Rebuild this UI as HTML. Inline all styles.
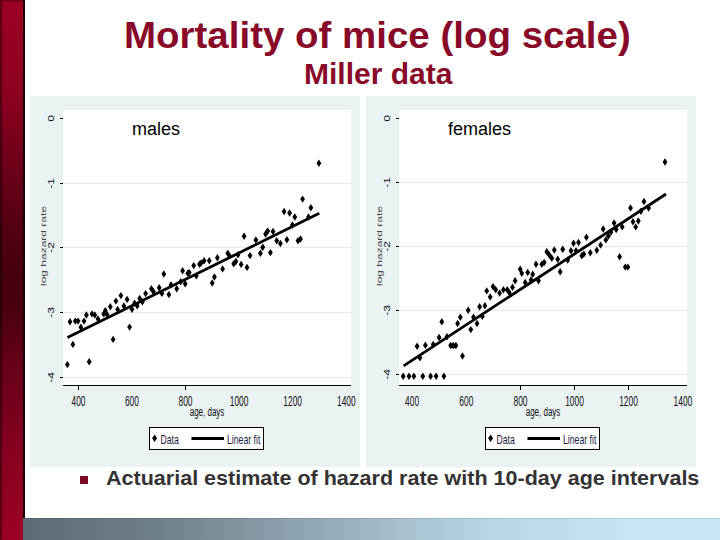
<!DOCTYPE html>
<html><head><meta charset="utf-8">
<style>
html,body{margin:0;padding:0;}
body{width:720px;height:540px;position:relative;overflow:hidden;background:#fff;font-family:"Liberation Sans",sans-serif;}
.bar{position:absolute;left:0;top:0;width:23px;height:540px;background:linear-gradient(to bottom,#9c0024 0px,#8e0022 90px,#74001a 150px,#520011 230px,#45000e 275px,#4a0010 310px,#640016 360px,#860020 450px,#9c0024 540px);border-right:2px solid #200006;box-shadow:inset 2px 1px 2px rgba(0,0,0,0.45);}
.bottom{position:absolute;left:23px;top:518px;width:697px;height:22px;background:linear-gradient(to right,#5e6b74 0px,#6e7e88 127px,#93aab5 297px,#a8c2cf 382px,#b8d8ea 477px,#c8e8fa 632px,#c8e8fa 697px);box-shadow:inset 0 1px 0 rgba(0,0,0,0.10);}
.t1{position:absolute;left:0;top:0;white-space:nowrap;color:#880a28;font-weight:bold;}
</style></head><body>
<div class="bar"></div>
<div class="t1" id="title" style="left:124px;top:15px;font-size:37px;transform:scaleX(1.04);transform-origin:0 0;">Mortality of mice (log scale)</div>
<div class="t1" id="sub" style="left:303.5px;top:58px;font-size:29px;transform:scaleX(1.035);transform-origin:0 0;">Miller data</div>
<svg width="330" height="371" viewBox="30 96 330 371" style="position:absolute;left:30px;top:96px">
<rect x="30" y="96" width="330" height="371" fill="#eaf2f3"/>
<rect x="63" y="110" width="288" height="275" fill="#fff"/>
<line x1="60" x2="63" y1="118.5" y2="118.5" stroke="#000" stroke-width="1"/>
<text transform="translate(53.5,118.5) rotate(-90) scale(1,0.68)" text-anchor="middle" font-size="12" fill="#111" style="font-family:'Liberation Sans',sans-serif">0</text>
<line x1="63" x2="351" y1="183.5" y2="183.5" stroke="#e3e8ea" stroke-width="1"/>
<line x1="60" x2="63" y1="183.5" y2="183.5" stroke="#000" stroke-width="1"/>
<text transform="translate(53.5,183.5) rotate(-90) scale(1,0.68)" text-anchor="middle" font-size="12" fill="#111" style="font-family:'Liberation Sans',sans-serif">-1</text>
<line x1="63" x2="351" y1="247.5" y2="247.5" stroke="#e3e8ea" stroke-width="1"/>
<line x1="60" x2="63" y1="247.5" y2="247.5" stroke="#000" stroke-width="1"/>
<text transform="translate(53.5,247.5) rotate(-90) scale(1,0.68)" text-anchor="middle" font-size="12" fill="#111" style="font-family:'Liberation Sans',sans-serif">-2</text>
<line x1="63" x2="351" y1="312.5" y2="312.5" stroke="#e3e8ea" stroke-width="1"/>
<line x1="60" x2="63" y1="312.5" y2="312.5" stroke="#000" stroke-width="1"/>
<text transform="translate(53.5,312.5) rotate(-90) scale(1,0.68)" text-anchor="middle" font-size="12" fill="#111" style="font-family:'Liberation Sans',sans-serif">-3</text>
<line x1="63" x2="351" y1="377.5" y2="377.5" stroke="#e3e8ea" stroke-width="1"/>
<line x1="60" x2="63" y1="377.5" y2="377.5" stroke="#000" stroke-width="1"/>
<text transform="translate(53.5,377.5) rotate(-90) scale(1,0.68)" text-anchor="middle" font-size="12" fill="#111" style="font-family:'Liberation Sans',sans-serif">-4</text>
<line x1="63" x2="351" y1="385.5" y2="385.5" stroke="#000" stroke-width="1.2"/>
<line x1="78.5" x2="78.5" y1="385" y2="390" stroke="#000" stroke-width="1"/>
<text transform="translate(78.5,406) scale(0.6,1)" text-anchor="middle" font-size="14" fill="#111" style="font-family:'Liberation Sans',sans-serif">400</text>
<text transform="translate(131.9,406) scale(0.6,1)" text-anchor="middle" font-size="14" fill="#111" style="font-family:'Liberation Sans',sans-serif">600</text>
<line x1="185.5" x2="185.5" y1="385" y2="390" stroke="#000" stroke-width="1"/>
<text transform="translate(185.5,406) scale(0.6,1)" text-anchor="middle" font-size="14" fill="#111" style="font-family:'Liberation Sans',sans-serif">800</text>
<text transform="translate(239.1,406) scale(0.6,1)" text-anchor="middle" font-size="14" fill="#111" style="font-family:'Liberation Sans',sans-serif">1000</text>
<text transform="translate(292.7,406) scale(0.6,1)" text-anchor="middle" font-size="14" fill="#111" style="font-family:'Liberation Sans',sans-serif">1200</text>
<text transform="translate(346.3,406) scale(0.6,1)" text-anchor="middle" font-size="14" fill="#111" style="font-family:'Liberation Sans',sans-serif">1400</text>
<text transform="translate(207.0,416) scale(0.59,1)" text-anchor="middle" font-size="13.5" fill="#111" style="font-family:'Liberation Sans',sans-serif">age, days</text>
<text transform="translate(46,246) rotate(-90) scale(1,0.65)" text-anchor="middle" font-size="12" fill="#444" style="font-family:'Liberation Sans',sans-serif">log hazard rate</text>
<text x="132" y="134.8" font-size="18" fill="#000" style="font-family:'Liberation Sans',sans-serif">males</text>
<path d="M70.0 318.0L72.4 321.7L70.0 325.4L67.6 321.7ZM75.3 317.4L77.7 321.1L75.3 324.8L72.9 321.1ZM78.1 317.4L80.5 321.1L78.1 324.8L75.7 321.1ZM84.0 317.4L86.4 321.1L84.0 324.8L81.6 321.1ZM86.4 311.3L88.8 315.0L86.4 318.7L84.0 315.0ZM92.0 310.2L94.4 313.9L92.0 317.6L89.6 313.9ZM94.8 311.3L97.2 315.0L94.8 318.7L92.4 315.0ZM80.9 323.5L83.3 327.2L80.9 330.9L78.5 327.2ZM98.0 315.3L100.4 319.0L98.0 322.7L95.6 319.0ZM107.0 310.7L109.4 314.4L107.0 318.1L104.6 314.4ZM123.9 302.3L126.3 306.0L123.9 309.7L121.5 306.0ZM103.7 310.2L106.1 313.9L103.7 317.6L101.3 313.9ZM105.3 306.9L107.7 310.6L105.3 314.3L102.9 310.6ZM110.3 303.0L112.7 306.7L110.3 310.4L107.9 306.7ZM115.9 297.4L118.3 301.1L115.9 304.8L113.5 301.1ZM120.9 291.9L123.3 295.6L120.9 299.3L118.5 295.6ZM113.1 335.7L115.5 339.4L113.1 343.1L110.7 339.4ZM72.9 340.7L75.3 344.4L72.9 348.1L70.5 344.4ZM117.6 305.7L120.0 309.4L117.6 313.1L115.2 309.4ZM67.4 360.9L69.8 364.6L67.4 368.3L65.0 364.6ZM89.2 358.0L91.6 361.7L89.2 365.4L86.8 361.7ZM129.6 323.4L132.0 327.1L129.6 330.8L127.2 327.1ZM127.1 295.7L129.5 299.4L127.1 303.1L124.7 299.4ZM132.0 305.5L134.4 309.2L132.0 312.9L129.6 309.2ZM139.7 294.8L142.1 298.5L139.7 302.2L137.3 298.5ZM145.6 289.9L148.0 293.6L145.6 297.3L143.2 293.6ZM151.4 285.1L153.8 288.8L151.4 292.5L149.0 288.8ZM159.2 284.1L161.6 287.8L159.2 291.5L156.8 287.8ZM168.9 290.9L171.3 294.6L168.9 298.3L166.5 294.6ZM176.7 285.1L179.1 288.8L176.7 292.5L174.3 288.8ZM137.2 302.1L139.6 305.8L137.2 309.5L134.8 305.8ZM153.4 287.8L155.8 291.5L153.4 295.2L151.0 291.5ZM161.9 289.7L164.3 293.4L161.9 297.1L159.5 293.4ZM163.8 270.3L166.2 274.0L163.8 277.7L161.4 274.0ZM171.0 281.3L173.4 285.0L171.0 288.7L168.6 285.0ZM180.7 278.1L183.1 281.8L180.7 285.5L178.3 281.8ZM182.6 267.1L185.0 270.8L182.6 274.5L180.2 270.8ZM185.2 280.0L187.6 283.7L185.2 287.4L182.8 283.7ZM187.8 269.6L190.2 273.3L187.8 277.0L185.4 273.3ZM193.7 261.9L196.1 265.6L193.7 269.3L191.3 265.6ZM196.3 272.2L198.7 275.9L196.3 279.6L193.9 275.9ZM199.5 260.6L201.9 264.3L199.5 268.0L197.1 264.3ZM142.4 298.2L144.8 301.9L142.4 305.6L140.0 301.9ZM134.6 299.5L137.0 303.2L134.6 306.9L132.2 303.2ZM189.3 268.9L191.7 272.6L189.3 276.3L186.9 272.6ZM201.1 259.3L203.5 263.0L201.1 266.7L198.7 263.0ZM204.1 257.0L206.5 260.7L204.1 264.4L201.7 260.7ZM209.3 257.0L211.7 260.7L209.3 264.4L206.9 260.7ZM217.4 254.1L219.8 257.8L217.4 261.5L215.0 257.8ZM222.6 265.2L225.0 268.9L222.6 272.6L220.2 268.9ZM214.4 273.3L216.8 277.0L214.4 280.7L212.0 277.0ZM212.2 279.3L214.6 283.0L212.2 286.7L209.8 283.0ZM227.8 249.6L230.2 253.3L227.8 257.0L225.4 253.3ZM229.3 251.9L231.7 255.6L229.3 259.3L226.9 255.6ZM233.7 260.0L236.1 263.7L233.7 267.4L231.3 263.7ZM235.9 257.8L238.3 261.5L235.9 265.2L233.5 261.5ZM241.1 260.7L243.5 264.4L241.1 268.1L238.7 264.4ZM247.0 263.7L249.4 267.4L247.0 271.1L244.6 267.4ZM244.1 232.6L246.5 236.3L244.1 240.0L241.7 236.3ZM250.0 251.9L252.4 255.6L250.0 259.3L247.6 255.6ZM255.9 236.3L258.3 240.0L255.9 243.7L253.5 240.0ZM260.4 249.6L262.8 253.3L260.4 257.0L258.0 253.3ZM262.6 243.7L265.0 247.4L262.6 251.1L260.2 247.4ZM265.6 230.4L268.0 234.1L265.6 237.8L263.2 234.1ZM267.8 227.4L270.2 231.1L267.8 234.8L265.4 231.1ZM238.0 251.1L240.4 254.8L238.0 258.5L235.6 254.8ZM318.9 159.6L321.3 163.3L318.9 167.0L316.5 163.3ZM302.6 195.4L305.0 199.1L302.6 202.8L300.2 199.1ZM310.9 204.1L313.3 207.8L310.9 211.5L308.5 207.8ZM284.1 207.8L286.5 211.5L284.1 215.2L281.7 211.5ZM289.6 209.3L292.0 213.0L289.6 216.7L287.2 213.0ZM294.8 213.3L297.2 217.0L294.8 220.7L292.4 217.0ZM308.5 213.3L310.9 217.0L308.5 220.7L306.1 217.0ZM292.4 221.3L294.8 225.0L292.4 228.7L290.0 225.0ZM266.5 228.7L268.9 232.4L266.5 236.1L264.1 232.4ZM273.0 227.8L275.4 231.5L273.0 235.2L270.6 231.5ZM276.7 237.0L279.1 240.7L276.7 244.4L274.3 240.7ZM280.4 239.8L282.8 243.5L280.4 247.2L278.0 243.5ZM286.9 236.1L289.3 239.8L286.9 243.5L284.5 239.8ZM298.0 237.0L300.4 240.7L298.0 244.4L295.6 240.7ZM262.8 243.5L265.2 247.2L262.8 250.9L260.4 247.2ZM300.5 235.3L302.9 239.0L300.5 242.7L298.1 239.0ZM270.4 248.9L272.8 252.6L270.4 256.3L268.0 252.6Z" fill="#000"/>
<line x1="67.5" y1="337.6" x2="319.3" y2="213.3" stroke="#000" stroke-width="2.8"/>
<rect x="149.5" y="427.5" width="114" height="22" fill="#fff" stroke="#000" stroke-width="1"/>
<path d="M154.6 434.5L157.1 438.3L154.6 442.1L152.1 438.3Z" fill="#000"/>
<text transform="translate(160.5,443.5) scale(0.67,1)" font-size="13" fill="#1a1a40" style="font-family:'Liberation Sans',sans-serif">Data</text>
<line x1="191.5" x2="224" y1="438.5" y2="438.5" stroke="#000" stroke-width="3"/>
<text transform="translate(227,443.5) scale(0.67,1)" font-size="13" fill="#1a1a40" style="font-family:'Liberation Sans',sans-serif">Linear fit</text>
</svg>
<svg width="330" height="371" viewBox="366 96 330 371" style="position:absolute;left:366px;top:96px">
<rect x="366" y="96" width="330" height="371" fill="#eaf2f3"/>
<rect x="399" y="110" width="288" height="275" fill="#fff"/>
<line x1="396" x2="399" y1="118.5" y2="118.5" stroke="#000" stroke-width="1"/>
<text transform="translate(389.5,118.5) rotate(-90) scale(1,0.68)" text-anchor="middle" font-size="12" fill="#111" style="font-family:'Liberation Sans',sans-serif">0</text>
<line x1="399" x2="687" y1="182.5" y2="182.5" stroke="#e3e8ea" stroke-width="1"/>
<line x1="396" x2="399" y1="182.5" y2="182.5" stroke="#000" stroke-width="1"/>
<text transform="translate(389.5,182.5) rotate(-90) scale(1,0.68)" text-anchor="middle" font-size="12" fill="#111" style="font-family:'Liberation Sans',sans-serif">-1</text>
<line x1="399" x2="687" y1="246.5" y2="246.5" stroke="#e3e8ea" stroke-width="1"/>
<line x1="396" x2="399" y1="246.5" y2="246.5" stroke="#000" stroke-width="1"/>
<text transform="translate(389.5,246.5) rotate(-90) scale(1,0.68)" text-anchor="middle" font-size="12" fill="#111" style="font-family:'Liberation Sans',sans-serif">-2</text>
<line x1="399" x2="687" y1="310.5" y2="310.5" stroke="#e3e8ea" stroke-width="1"/>
<line x1="396" x2="399" y1="310.5" y2="310.5" stroke="#000" stroke-width="1"/>
<text transform="translate(389.5,310.5) rotate(-90) scale(1,0.68)" text-anchor="middle" font-size="12" fill="#111" style="font-family:'Liberation Sans',sans-serif">-3</text>
<line x1="399" x2="687" y1="374.5" y2="374.5" stroke="#e3e8ea" stroke-width="1"/>
<line x1="396" x2="399" y1="374.5" y2="374.5" stroke="#000" stroke-width="1"/>
<text transform="translate(389.5,374.5) rotate(-90) scale(1,0.68)" text-anchor="middle" font-size="12" fill="#111" style="font-family:'Liberation Sans',sans-serif">-4</text>
<line x1="399" x2="687" y1="385.5" y2="385.5" stroke="#000" stroke-width="1.2"/>
<text transform="translate(412.1,406) scale(0.6,1)" text-anchor="middle" font-size="14" fill="#111" style="font-family:'Liberation Sans',sans-serif">400</text>
<text transform="translate(466.3,406) scale(0.6,1)" text-anchor="middle" font-size="14" fill="#111" style="font-family:'Liberation Sans',sans-serif">600</text>
<line x1="520.5" x2="520.5" y1="385" y2="390" stroke="#000" stroke-width="1"/>
<text transform="translate(520.5,406) scale(0.6,1)" text-anchor="middle" font-size="14" fill="#111" style="font-family:'Liberation Sans',sans-serif">800</text>
<line x1="574.5" x2="574.5" y1="385" y2="390" stroke="#000" stroke-width="1"/>
<text transform="translate(574.5,406) scale(0.6,1)" text-anchor="middle" font-size="14" fill="#111" style="font-family:'Liberation Sans',sans-serif">1000</text>
<line x1="628.5" x2="628.5" y1="385" y2="390" stroke="#000" stroke-width="1"/>
<text transform="translate(628.5,406) scale(0.6,1)" text-anchor="middle" font-size="14" fill="#111" style="font-family:'Liberation Sans',sans-serif">1200</text>
<text transform="translate(682.9,406) scale(0.6,1)" text-anchor="middle" font-size="14" fill="#111" style="font-family:'Liberation Sans',sans-serif">1400</text>
<text transform="translate(543.0,416) scale(0.59,1)" text-anchor="middle" font-size="13.5" fill="#111" style="font-family:'Liberation Sans',sans-serif">age, days</text>
<text transform="translate(382,246) rotate(-90) scale(1,0.65)" text-anchor="middle" font-size="12" fill="#444" style="font-family:'Liberation Sans',sans-serif">log hazard rate</text>
<text x="448" y="134.8" font-size="18" fill="#000" style="font-family:'Liberation Sans',sans-serif">females</text>
<path d="M403.2 372.6L405.6 376.3L403.2 380.0L400.8 376.3ZM409.0 372.6L411.4 376.3L409.0 380.0L406.6 376.3ZM413.9 372.6L416.3 376.3L413.9 380.0L411.5 376.3ZM422.8 372.6L425.2 376.3L422.8 380.0L420.4 376.3ZM430.6 372.6L433.0 376.3L430.6 380.0L428.2 376.3ZM436.1 372.6L438.5 376.3L436.1 380.0L433.7 376.3ZM443.9 372.6L446.3 376.3L443.9 380.0L441.5 376.3ZM417.1 342.6L419.5 346.3L417.1 350.0L414.7 346.3ZM425.4 341.5L427.8 345.2L425.4 348.9L423.0 345.2ZM433.2 340.7L435.6 344.4L433.2 348.1L430.8 344.4ZM419.9 354.1L422.3 357.8L419.9 361.5L417.5 357.8ZM439.1 333.8L441.5 337.5L439.1 341.2L436.7 337.5ZM441.8 318.0L444.2 321.7L441.8 325.4L439.4 321.7ZM447.0 333.0L449.4 336.7L447.0 340.4L444.6 336.7ZM450.6 341.8L453.0 345.5L450.6 349.2L448.2 345.5ZM453.2 341.8L455.6 345.5L453.2 349.2L450.8 345.5ZM455.9 341.8L458.3 345.5L455.9 349.2L453.5 345.5ZM462.5 352.3L464.9 356.0L462.5 359.7L460.1 356.0ZM457.6 319.8L460.0 323.5L457.6 327.2L455.2 323.5ZM460.3 313.6L462.7 317.3L460.3 321.0L457.9 317.3ZM468.2 306.5L470.6 310.2L468.2 313.9L465.8 310.2ZM470.8 325.9L473.2 329.6L470.8 333.3L468.4 329.6ZM473.5 313.6L475.9 317.3L473.5 321.0L471.1 317.3ZM477.0 319.8L479.4 323.5L477.0 327.2L474.6 323.5ZM479.6 303.0L482.0 306.7L479.6 310.4L477.2 306.7ZM484.9 302.1L487.3 305.8L484.9 309.5L482.5 305.8ZM482.3 312.7L484.7 316.4L482.3 320.1L479.9 316.4ZM490.2 293.3L492.6 297.0L490.2 300.7L487.8 297.0ZM486.7 287.2L489.1 290.9L486.7 294.6L484.3 290.9ZM493.0 282.9L495.4 286.6L493.0 290.3L490.6 286.6ZM495.7 286.1L498.1 289.8L495.7 293.5L493.3 289.8ZM499.6 289.4L502.0 293.1L499.6 296.8L497.2 293.1ZM503.4 286.1L505.8 289.8L503.4 293.5L501.0 289.8ZM507.3 286.1L509.7 289.8L507.3 293.5L504.9 289.8ZM512.5 283.5L514.9 287.2L512.5 290.9L510.1 287.2ZM515.1 277.1L517.5 280.8L515.1 284.5L512.7 280.8ZM509.3 288.8L511.7 292.5L509.3 296.2L506.9 292.5ZM520.2 265.5L522.6 269.2L520.2 272.9L517.8 269.2ZM521.8 269.6L524.2 273.3L521.8 277.0L519.4 273.3ZM525.2 278.8L527.6 282.5L525.2 286.2L522.8 282.5ZM527.7 268.8L530.1 272.5L527.7 276.2L525.3 272.5ZM532.7 270.5L535.1 274.2L532.7 277.9L530.3 274.2ZM531.0 276.3L533.4 280.0L531.0 283.7L528.6 280.0ZM536.0 260.5L538.4 264.2L536.0 267.9L533.6 264.2ZM541.8 260.5L544.2 264.2L541.8 267.9L539.4 264.2ZM544.2 258.8L546.6 262.5L544.2 266.2L541.8 262.5ZM538.5 277.1L540.9 280.8L538.5 284.5L536.1 280.8ZM546.8 248.0L549.2 251.7L546.8 255.4L544.4 251.7ZM549.3 251.3L551.7 255.0L549.3 258.7L546.9 255.0ZM551.8 254.6L554.2 258.3L551.8 262.0L549.4 258.3ZM554.3 246.3L556.7 250.0L554.3 253.7L551.9 250.0ZM557.7 255.5L560.1 259.2L557.7 262.9L555.3 259.2ZM560.2 268.0L562.6 271.7L560.2 275.4L557.8 271.7ZM562.7 245.5L565.1 249.2L562.7 252.9L560.3 249.2ZM567.7 256.3L570.1 260.0L567.7 263.7L565.3 260.0ZM571.0 247.1L573.4 250.8L571.0 254.5L568.6 250.8ZM573.5 239.6L575.9 243.3L573.5 247.0L571.1 243.3ZM578.5 238.8L580.9 242.5L578.5 246.2L576.1 242.5ZM576.0 247.1L578.4 250.8L576.0 254.5L573.6 250.8ZM581.8 252.1L584.2 255.8L581.8 259.5L579.4 255.8ZM665.0 158.3L667.4 162.0L665.0 165.7L662.6 162.0ZM644.0 197.8L646.4 201.5L644.0 205.2L641.6 201.5ZM630.5 204.3L632.9 208.0L630.5 211.7L628.1 208.0ZM648.6 204.3L651.0 208.0L648.6 211.7L646.2 208.0ZM640.9 207.6L643.3 211.3L640.9 215.0L638.5 211.3ZM633.0 218.0L635.4 221.7L633.0 225.4L630.6 221.7ZM638.3 217.3L640.7 221.0L638.3 224.7L635.9 221.0ZM635.7 223.2L638.1 226.9L635.7 230.6L633.3 226.9ZM614.1 219.3L616.5 223.0L614.1 226.7L611.7 223.0ZM622.2 223.2L624.6 226.9L622.2 230.6L619.8 226.9ZM603.2 225.3L605.6 229.0L603.2 232.7L600.8 229.0ZM616.2 225.8L618.6 229.5L616.2 233.2L613.8 229.5ZM611.0 228.4L613.4 232.1L611.0 235.8L608.6 232.1ZM608.4 232.3L610.8 236.0L608.4 239.7L606.0 236.0ZM586.4 233.6L588.8 237.3L586.4 241.0L584.0 237.3ZM605.8 236.2L608.2 239.9L605.8 243.6L603.4 239.9ZM600.6 241.4L603.0 245.1L600.6 248.8L598.2 245.1ZM596.8 246.5L599.2 250.2L596.8 253.9L594.4 250.2ZM590.3 249.1L592.7 252.8L590.3 256.5L587.9 252.8ZM583.8 250.4L586.2 254.1L583.8 257.8L581.4 254.1ZM619.6 253.0L622.0 256.7L619.6 260.4L617.2 256.7ZM625.3 263.4L627.7 267.1L625.3 270.8L622.9 267.1ZM627.9 263.4L630.3 267.1L627.9 270.8L625.5 267.1Z" fill="#000"/>
<line x1="403.6" y1="365.9" x2="666" y2="194" stroke="#000" stroke-width="2.8"/>
<rect x="485.5" y="427.5" width="114" height="22" fill="#fff" stroke="#000" stroke-width="1"/>
<path d="M490.6 434.5L493.1 438.3L490.6 442.1L488.1 438.3Z" fill="#000"/>
<text transform="translate(496.5,443.5) scale(0.67,1)" font-size="13" fill="#1a1a40" style="font-family:'Liberation Sans',sans-serif">Data</text>
<line x1="527.5" x2="560" y1="438.5" y2="438.5" stroke="#000" stroke-width="3"/>
<text transform="translate(563,443.5) scale(0.67,1)" font-size="13" fill="#1a1a40" style="font-family:'Liberation Sans',sans-serif">Linear fit</text>
</svg>
<div style="position:absolute;left:80px;top:476px;width:8px;height:8px;background:#7c0a26"></div>
<div id="bul" style="position:absolute;left:105.5px;top:466px;font-size:20.5px;font-weight:bold;color:#333;white-space:nowrap;transform:scaleX(1.05);transform-origin:0 0;">Actuarial estimate of hazard rate with 10-day age intervals</div>
<div class="bottom"></div>
</body></html>
